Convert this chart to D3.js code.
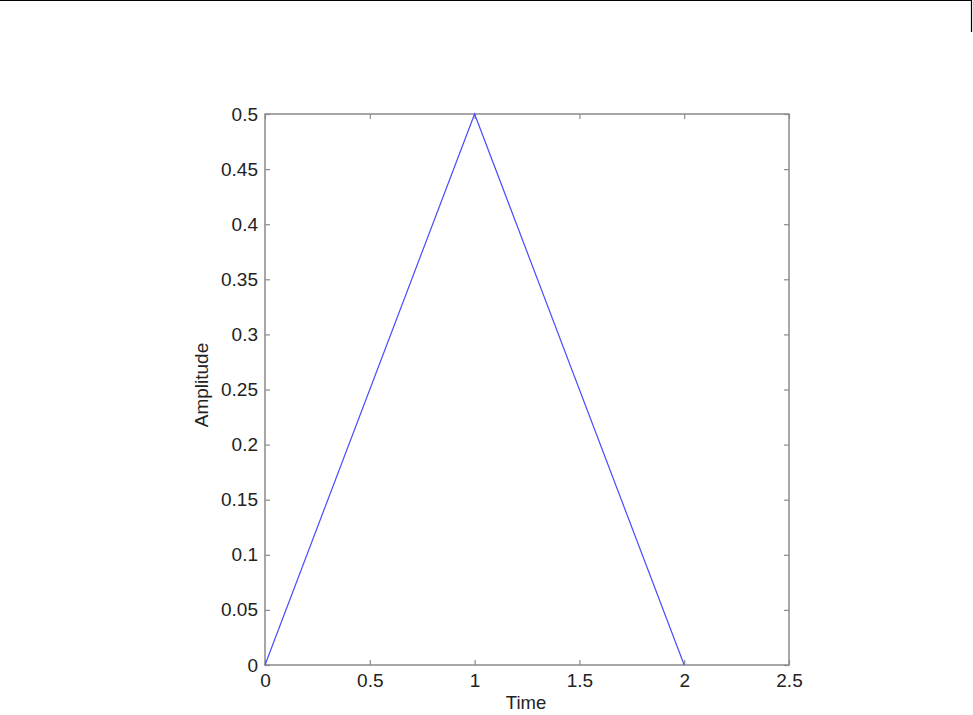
<!DOCTYPE html>
<html><head><meta charset="utf-8">
<script src="https://cdn.jsdelivr.net/npm/d3@7"></script>
<style>body{margin:0;background:#fff;}svg{display:block;}</style>
</head><body>
<script>
const timeValues = [0, 1, 2];
const amplitudeValues = [0, 0.5, 0];
const xTicks = [0, 0.5, 1, 1.5, 2, 2.5];
const yTicks = [0, 0.05, 0.1, 0.15, 0.2, 0.25, 0.3, 0.35, 0.4, 0.45, 0.5];

const W = 973, H = 715;
const svg = d3.select("body").append("svg").attr("width", W).attr("height", H);
const L = 265, R = 789, T = 114, B = 665;
const x = d3.scaleLinear().domain([0, 2.5]).range([L, R]);
const y = d3.scaleLinear().domain([0, 0.5]).range([B, T]);
const font = "Liberation Sans, Arial, sans-serif";

// page top rule and right marker
svg.append("line").attr("x1",0).attr("x2",972).attr("y1",0.5).attr("y2",0.5).attr("stroke","#000").attr("stroke-width",1.2);
svg.append("line").attr("x1",971.5).attr("x2",971.5).attr("y1",0).attr("y2",32).attr("stroke","#000").attr("stroke-width",1.2);

const fmt = d => String(d);
const tickLen = 5;
const axisColor = "#8a8a8a";

const gx = svg.append("g").attr("transform", `translate(0,${B})`)
  .call(d3.axisBottom(x).tickValues(xTicks).tickFormat(fmt).tickSizeInner(-tickLen).tickSizeOuter(0).tickPadding(9));
const gxt = svg.append("g").attr("transform", `translate(0,${T})`)
  .call(d3.axisTop(x).tickValues(xTicks).tickFormat("").tickSizeInner(-tickLen).tickSizeOuter(0));
const gy = svg.append("g").attr("transform", `translate(${L},0)`)
  .call(d3.axisLeft(y).tickValues(yTicks).tickFormat(fmt).tickSizeInner(-tickLen).tickSizeOuter(0).tickPadding(7));
const gyr = svg.append("g").attr("transform", `translate(${R},0)`)
  .call(d3.axisRight(y).tickValues(yTicks).tickFormat("").tickSizeInner(-tickLen).tickSizeOuter(0));

[gx, gxt, gy, gyr].forEach(g => {
  g.select(".domain").remove();
  g.selectAll(".tick line").attr("stroke", axisColor).attr("stroke-width", 1.2);
  g.selectAll("text").attr("font-family", font).attr("font-size", 19).attr("fill", "#222");
});

svg.append("rect").attr("x", L).attr("y", T).attr("width", R - L).attr("height", B - T)
  .attr("fill", "none").attr("stroke", axisColor).attr("stroke-width", 1.5);

const line = d3.line().x((d, i) => x(timeValues[i])).y(d => y(d));
svg.append("path").datum(amplitudeValues).attr("d", line)
  .attr("fill", "none").attr("stroke", "#4a4aff").attr("stroke-width", 1.2);

svg.append("text").attr("x", 526).attr("y", 709).attr("text-anchor", "middle")
  .attr("font-family", font).attr("font-size", 18.5).attr("fill", "#222").text("Time");
svg.append("text").attr("transform", `translate(208,385) rotate(-90)`).attr("text-anchor", "middle")
  .attr("font-family", font).attr("font-size", 19).attr("fill", "#222").text("Amplitude");
</script>
</body></html>
